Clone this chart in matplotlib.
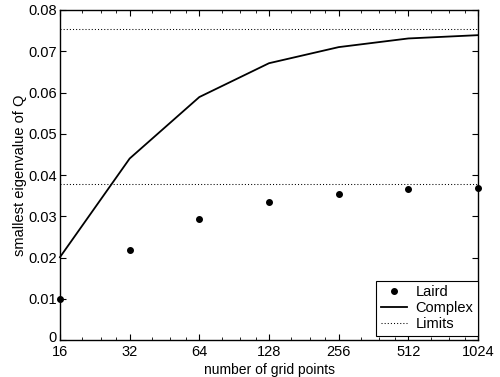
import matplotlib
matplotlib.use("Agg")
import matplotlib.pyplot as plt
from matplotlib.ticker import FixedLocator, NullFormatter
from matplotlib.transforms import ScaledTranslation

plt.rcParams['font.family'] = ['Liberation Sans', 'DejaVu Sans']

grid_points = [16, 32, 64, 128, 256, 512, 1024]
laird = [0.0099, 0.0219, 0.0293, 0.0334, 0.0355, 0.0366, 0.0369]
complex_vals = [0.0201, 0.0440, 0.0589, 0.0671, 0.0710, 0.0731, 0.0739]
limit_low = 0.03775
limit_high = 0.0753
xtick_labels = ['16', '32', '64', '128', '256', '512', '1024']
yticks = [0, 0.01, 0.02, 0.03, 0.04, 0.05, 0.06, 0.07, 0.08]
ytick_labels = ['0', '0.01', '0.02', '0.03', '0.04', '0.05', '0.06', '0.07', '0.08']

fig = plt.figure(figsize=(5.0, 3.77), dpi=100)
ax = fig.add_axes([0.12, 0.098, 0.836, 0.8755])

ax.plot(grid_points, laird, linestyle='none', marker='o', color='black',
        markersize=4, label='Laird', clip_on=False, zorder=5)
ax.plot(grid_points, complex_vals, color='black', linewidth=1.3,
        label='Complex', clip_on=False)
ax.axhline(limit_high, color='black', linestyle=(0, (1, 2)), linewidth=0.75,
           label='Limits')
ax.axhline(limit_low, color='black', linestyle=(0, (1, 2)), linewidth=0.75)

ax.set_xscale('log', base=2)
ax.set_xlim(16, 1024)
ax.set_ylim(0, 0.08)
ax.set_xticks(grid_points)
ax.set_xticklabels(xtick_labels)
minor = [b * f for b in grid_points[:-1] for f in (1.25, 1.5, 1.75)]
ax.xaxis.set_minor_locator(FixedLocator(minor))
ax.xaxis.set_minor_formatter(NullFormatter())
ax.set_yticks(yticks)
ax.set_yticklabels(ytick_labels)

ax.tick_params(axis='both', which='both', direction='in', top=True, right=True,
               labelsize=10.5, colors='black')
ax.tick_params(axis='both', which='major', length=4, width=0.8)
ax.tick_params(axis='x', which='minor', length=2, width=0.6)
ax.tick_params(axis='x', which='major', pad=3.5)
ax.tick_params(axis='y', which='major', pad=2.5)
for s in ax.spines.values():
    s.set_linewidth(1.0)

# nudge the "0" y label up slightly so it sits clear of the "16" label
zero_lbl = ax.yaxis.get_major_ticks()[0].label1
zero_lbl.set_transform(zero_lbl.get_transform() +
                       ScaledTranslation(0, 3.5 / 100, fig.dpi_scale_trans))

ax.set_xlabel('number of grid points', fontsize=10, va='bottom')
ax.xaxis.set_label_coords(0.5, -37.0 / 330.0)
ax.set_ylabel('smallest eigenvalue of Q', fontsize=10.5, labelpad=1)

leg = ax.legend(loc='lower right', bbox_to_anchor=(1.0, 0.013), fontsize=10.5,
                frameon=True, fancybox=False, edgecolor='black', framealpha=1,
                borderaxespad=0, handlelength=1.8, labelspacing=0.15,
                borderpad=0.3, handletextpad=0.6)
leg.get_frame().set_linewidth(0.8)

fig.savefig('out.png', dpi=100)
